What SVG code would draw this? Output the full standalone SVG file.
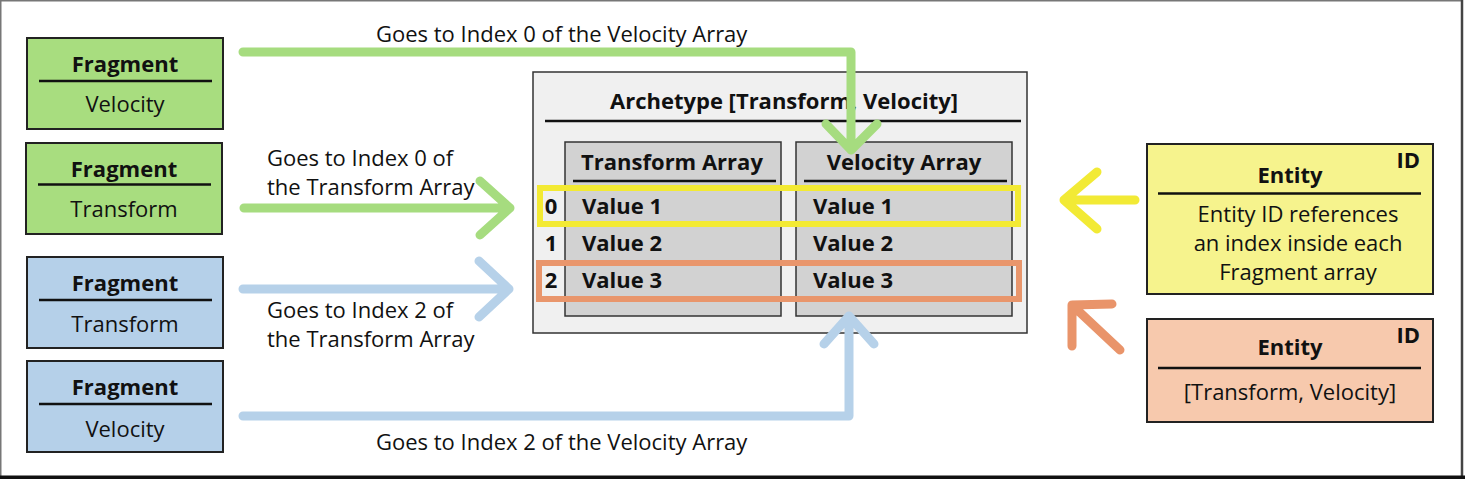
<svg xmlns="http://www.w3.org/2000/svg" width="1465" height="479" viewBox="0 0 1465 479">
<style>
text{font-family:"Open Sans","Liberation Sans",sans-serif;font-size:22px;fill:#111}
.b{font-weight:bold}
.c{text-anchor:middle}
.box{stroke:#222;stroke-width:2}
.sep{stroke:#111;stroke-width:2.5}
.g{fill:#a8dd7f}
.bl{fill:#b5d0e9}
.arr{fill:none;stroke-width:9;stroke-linecap:round;stroke-linejoin:round}
</style>
<rect x="0" y="0" width="1465" height="479" fill="#fff"/>
<rect x="0.75" y="0.75" width="1461" height="476" fill="none" stroke="#777" stroke-width="1.5"/>
<line x1="1462" y1="0" x2="1462" y2="479" stroke="#444" stroke-width="2.5"/>
<line x1="0" y1="477.5" x2="1465" y2="477.5" stroke="#111" stroke-width="4"/>

<g id="frag-velocity-green">
<rect class="box g" x="27" y="38" width="196" height="91"/>
<text class="b c" x="125" y="72">Fragment</text>
<line class="sep" x1="39" y1="81" x2="212" y2="81"/>
<text class="c" x="125" y="112">Velocity</text>
</g>
<g id="frag-transform-green">
<rect class="box g" x="26" y="143" width="196" height="91"/>
<text class="b c" x="124" y="177">Fragment</text>
<line class="sep" x1="38" y1="184.5" x2="211" y2="184.5"/>
<text class="c" x="124" y="217">Transform</text>
</g>
<g id="frag-transform-blue">
<rect class="box bl" x="27" y="257" width="196" height="91"/>
<text class="b c" x="125" y="291">Fragment</text>
<line class="sep" x1="39" y1="300" x2="212" y2="300"/>
<text class="c" x="125" y="332">Transform</text>
</g>
<g id="frag-velocity-blue">
<rect class="box bl" x="27" y="361" width="196" height="91"/>
<text class="b c" x="125" y="395">Fragment</text>
<line class="sep" x1="39" y1="404" x2="212" y2="404"/>
<text class="c" x="125" y="437">Velocity</text>
</g>

<g id="archetype">
<rect x="533" y="72" width="494" height="261" fill="#f0f0f0" stroke="#333" stroke-width="1.5"/>
<text class="b c" x="784" y="109">Archetype [Transform, Velocity]</text>
<line class="sep" x1="545" y1="121" x2="1021" y2="121"/>
<rect x="565" y="142" width="216" height="174" fill="#d2d2d2" stroke="#333" stroke-width="1.5"/>
<text class="b c" x="672" y="170">Transform Array</text>
<line class="sep" x1="573" y1="181" x2="776" y2="181"/>
<rect x="796" y="142" width="216" height="174" fill="#d2d2d2" stroke="#333" stroke-width="1.5"/>
<text class="b c" x="904" y="170">Velocity Array</text>
<line class="sep" x1="804" y1="181" x2="1007" y2="181"/>
<text class="b c" x="551" y="214">0</text>
<text class="b c" x="551" y="251">1</text>
<text class="b c" x="551" y="288">2</text>
<text class="b" x="582" y="214">Value 1</text>
<text class="b" x="582" y="251">Value 2</text>
<text class="b" x="582" y="288">Value 3</text>
<text class="b" x="813" y="214">Value 1</text>
<text class="b" x="813" y="251">Value 2</text>
<text class="b" x="813" y="288">Value 3</text>
<rect x="540" y="188" width="478" height="36" fill="none" stroke="#f3ea33" stroke-width="6"/>
<rect x="539" y="263" width="480" height="36" fill="none" stroke="#e9966c" stroke-width="6"/>
</g>

<g id="entity-yellow">
<rect class="box" x="1147" y="144" width="286" height="150" fill="#f6f38d"/>
<text class="b c" x="1290" y="183">Entity</text>
<text class="b" x="1420" y="168" text-anchor="end">ID</text>
<line class="sep" x1="1158" y1="193.5" x2="1421" y2="193.5"/>
<text class="c" x="1298" y="222">Entity ID references</text>
<text class="c" x="1298" y="251">an index inside each</text>
<text class="c" x="1298" y="280">Fragment array</text>
</g>
<g id="entity-orange">
<rect class="box" x="1147" y="319" width="286" height="103" fill="#f7c9ad"/>
<text class="b c" x="1290" y="355">Entity</text>
<text class="b" x="1420" y="343" text-anchor="end">ID</text>
<line class="sep" x1="1158" y1="368" x2="1421" y2="368"/>
<text class="c" x="1290" y="400">[Transform, Velocity]</text>
</g>

<g id="connectors">
<path class="arr" stroke="#a6dc7f" d="M243 52 H851 V150 M826 124 L851 150 L877 124"/>
<text x="376" y="42">Goes to Index 0 of the Velocity Array</text>
<path class="arr" stroke="#a6dc7f" d="M244 208 H510 M480 181 L510 208 L480 235"/>
<text x="267" y="166">Goes to Index 0 of</text>
<text x="267" y="195">the Transform Array</text>
<path class="arr" stroke="#b6d1e9" d="M243 289 H509 M479 261 L509 289 L479 317"/>
<text x="267" y="318">Goes to Index 2 of</text>
<text x="267" y="347">the Transform Array</text>
<path class="arr" stroke="#b6d1e9" d="M243 416 H849 V316 M824 344 L849 316 L874 344"/>
<text x="376" y="450">Goes to Index 2 of the Velocity Array</text>
<path class="arr" stroke="#f2ea35" d="M1135 200 H1064 M1097 172 L1064 200 L1097 229"/>
<path class="arr" stroke="#e9946a" d="M1120 350 L1072 305 M1072 346 L1072 305 L1112 304"/>
</g>
</svg>
